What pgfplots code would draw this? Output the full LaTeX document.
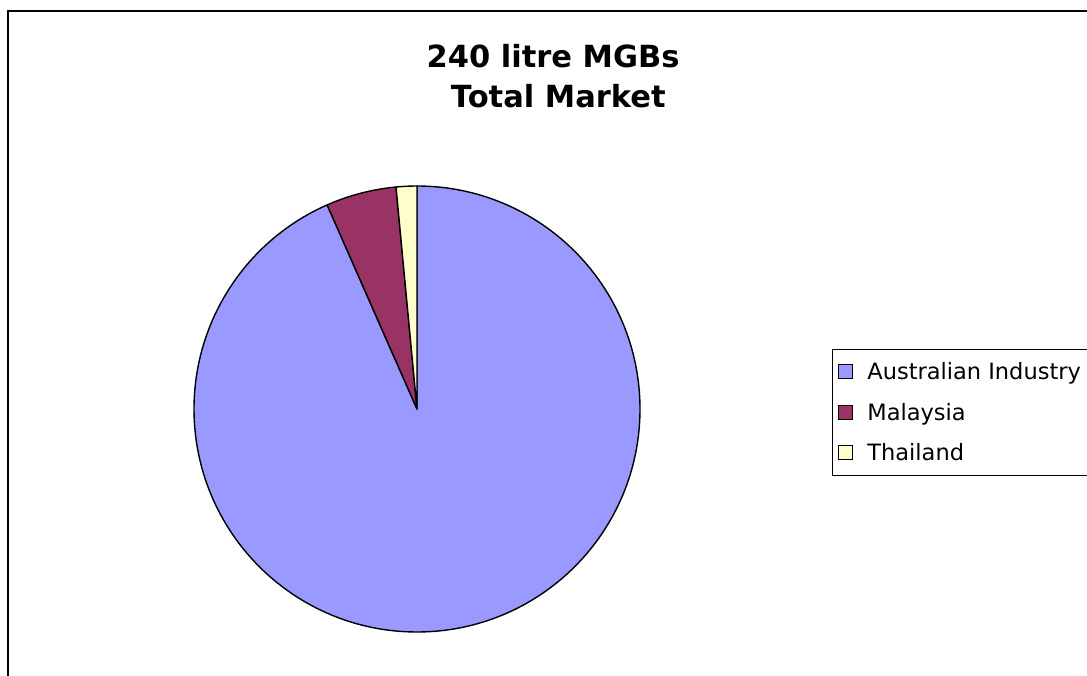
\documentclass[border=0pt]{standalone}
\usepackage{pgfplots}
\pgfplotsset{compat=1.18}
\usepackage{pgfplotstable}
\usepackage{fontspec}
\setmainfont{DejaVu Sans}
\definecolor{cAus}{HTML}{9999FF}
\definecolor{cMal}{HTML}{993366}
\definecolor{cTha}{HTML}{FFFFCC}
\pgfplotstableread{
label share
Australian 93.4
Malaysia 5.1
Thailand 1.5
}\piedata
\pgfplotstablegetelem{0}{share}\of\piedata \let\sA\pgfplotsretval
\pgfplotstablegetelem{1}{share}\of\piedata \let\sB\pgfplotsretval
\pgfplotstablegetelem{2}{share}\of\piedata \let\sC\pgfplotsretval
\pgfmathsetmacro{\aA}{90-3.6*\sA}
\pgfmathsetmacro{\aB}{\aA-3.6*\sB}
\pgfmathsetmacro{\aC}{\aB-3.6*\sC}
\begin{document}
\begin{tikzpicture}
\useasboundingbox (0,0) rectangle (1087pt,675pt);
\clip (0,0) rectangle (1087pt,675pt);
\fill[white] (0,0) rectangle (1087pt,675pt);
\begin{axis}[hide axis, scale only axis, width=1087pt, height=675pt,
  xmin=0, xmax=1087, ymin=0, ymax=675, clip=false,
  legend style={at={(0.7654,0.4830)}, anchor=north west, draw=black, line width=0.8pt,
    font=\fontsize{22.5}{26}\selectfont, inner xsep=6pt, inner ysep=11pt, row sep=18pt,
    cells={anchor=west},
    /tikz/every odd column/.append style={column sep=12pt}},
  legend image code/.code={\draw[#1, line width=1pt] (0pt,-7pt) rectangle (14pt,7pt);},
  legend cell align=left]
\addlegendimage{fill=cAus, draw=black}
\addlegendentry{Australian Industry}
\addlegendimage{fill=cMal, draw=black}
\addlegendentry{Malaysia}
\addlegendimage{fill=cTha, draw=black}
\addlegendentry{Thailand}
\filldraw[fill=cAus, draw=black, line width=1.4pt, line join=round] (axis cs:417,266) -- ++(90:223pt) arc[start angle=90, end angle=\aA, radius=223pt] -- cycle;
\filldraw[fill=cMal, draw=black, line width=1.4pt, line join=round] (axis cs:417,266) -- ++(\aA:223pt) arc[start angle=\aA, end angle=\aB, radius=223pt] -- cycle;
\filldraw[fill=cTha, draw=black, line width=1.4pt, line join=round] (axis cs:417,266) -- ++(\aB:223pt) arc[start angle=\aB, end angle=\aC, radius=223pt] -- cycle;
\node[font=\bfseries\fontsize{30.5}{39.5}\selectfont, align=center, anchor=north] at (axis cs:553,634) {240 litre MGBs\\~Total Market};
\draw[line width=1.3pt] (axis cs:8,-5) -- (axis cs:8,664) -- (axis cs:1095,664);
\end{axis}
\end{tikzpicture}
\end{document}
